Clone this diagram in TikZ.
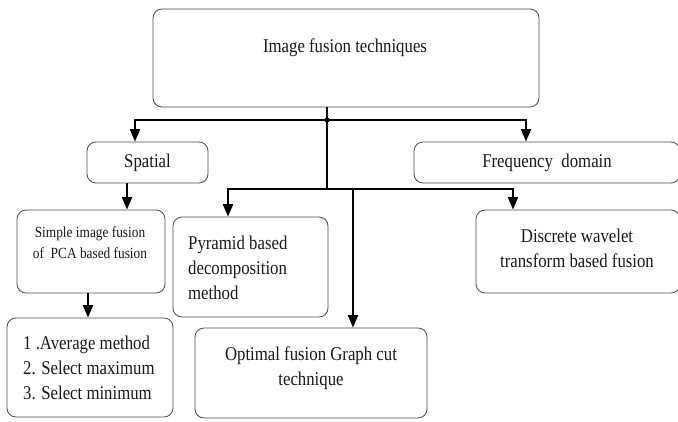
\documentclass[tikz,border=0pt]{standalone}
\usepackage{fontspec}
\setmainfont{Liberation Serif}[FakeStretch=0.86]
\usetikzlibrary{arrows.meta}

\begin{document}
\begin{tikzpicture}[x=1pt,y=-1pt,
  box/.style={draw=black!70, line width=0.8pt, rounded corners=9pt, inner sep=0pt},
  lbl/.style={font=\fontsize{19.5}{25}\selectfont, inner sep=0pt, align=center, text=black!90},
  small/.style={font=\fontsize{15.5}{21}\selectfont, inner sep=0pt, align=center, text=black!90},
  wire/.style={line width=1.9pt, draw=black},
  thin wire/.style={line width=1.2pt, draw=black},
  tip/.style={-{Triangle[length=12.5pt,width=10pt]}}
]
\useasboundingbox (0,0) rectangle (678,421);

% boxes
\node[box, minimum width=386pt, minimum height=98pt] (top) at (346,58) {};
\node[box, lbl, minimum width=121pt, minimum height=41pt] (spatial) at (147.5,162.5) {Spatial};
\node[box, minimum width=266pt, minimum height=41pt] (freq) at (547,162.5) {};
\node[box, minimum width=148pt, minimum height=83pt] (simple) at (91,251.5) {};
\node[box, minimum width=166pt, minimum height=99pt] (list) at (90,367.5) {};
\node[box, minimum width=155pt, minimum height=100pt] (pyr) at (250.5,267) {};
\node[box, minimum width=232pt, minimum height=90pt] (opt) at (311,373) {};
\node[box, minimum width=204pt, minimum height=83pt] (dwt) at (578,251.5) {};

% labels
\node[lbl] (topt) at (345,48) {Image fusion techniques};
\node[lbl] (freqt) at (547,163) {Frequency\ \ domain};
\node[small] (simplet) at (90,242.5) {Simple image fusion\\of\ \ PCA based fusion};
\node[lbl, align=left, anchor=west] (listt) at (23,368) {1 .Average method\\2. Select maximum\\3. Select minimum};
\node[lbl, align=left, anchor=west] (pyrt) at (188,268) {Pyramid based\\decomposition\\method};
\node[lbl] (optt) at (311,368.5) {Optimal fusion Graph cut\\technique};
\node[lbl] (dwtt) at (577,248.5) {Discrete wavelet\\transform based fusion};

% junction points
\coordinate (j1) at (327,120);
\coordinate (j2) at (327,189);
\coordinate (a1) at (135,120);
\coordinate (a2) at (526,120);
\coordinate (b1) at (228,189);
\coordinate (b2) at (353,189);
\coordinate (b3) at (513,189);
\coordinate (c1) at (127,183);
\coordinate (c2) at (88,293);

% connectors
\draw[thin wire] (top.south -| j1) -- (j2);
\draw[wire, tip] (j1) -| (a1 |- spatial.north);
\draw[wire, tip] (j1) -| (a2 |- freq.north);
\fill (j1) circle (2.6pt);
\draw[wire, tip] (j2) -| (b1 |- pyr.north);
\draw[wire, tip] (j2) -| (b3 |- dwt.north);
\draw[wire, tip] (b2) -- (b2 |- opt.north);
\draw[wire, tip] (c1) -- (c1 |- simple.north);
\draw[wire, tip] (c2) -- (c2 |- list.north);
\end{tikzpicture}
\end{document}
